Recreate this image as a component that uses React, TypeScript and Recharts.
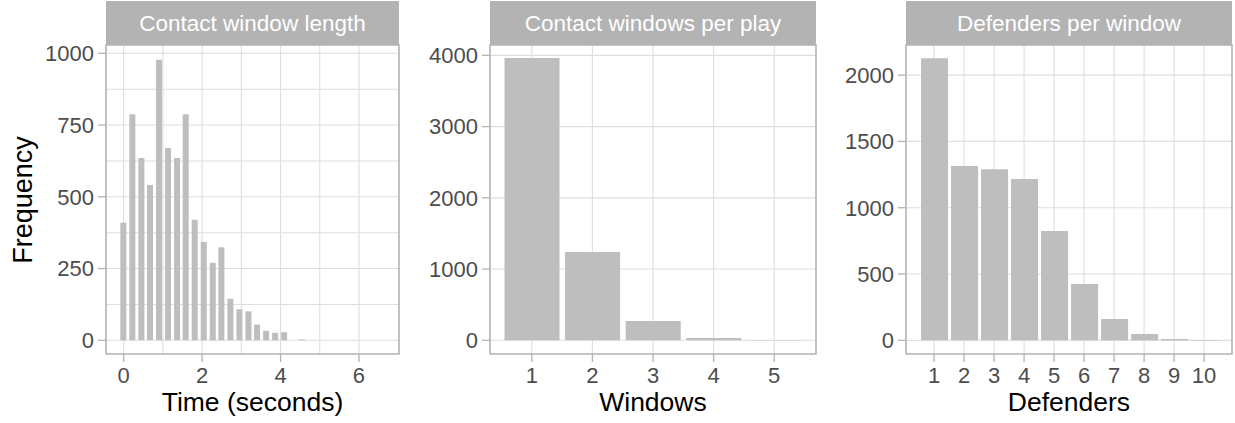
import React from 'react';
import { BarChart, Bar, XAxis, YAxis, CartesianGrid, ReferenceArea } from 'recharts';

const FONT = '"Liberation Sans", Arial, Helvetica, sans-serif';

// ---- Panel 1: Contact window length (histogram bins, seconds) ----
const timeBins = [0, 0.23, 0.46, 0.68, 0.91, 1.14, 1.37, 1.59, 1.82, 2.05, 2.28, 2.5, 2.73, 2.96, 3.19, 3.41, 3.64, 3.87, 4.1, 4.32, 4.55, 4.78, 5.01, 5.23, 5.46, 5.69, 5.92, 6.14, 6.37, 6.6];
const timeCounts = [410, 788, 635, 541, 978, 670, 635, 788, 420, 343, 270, 324, 145, 108, 101, 55, 33, 26, 28, 0, 3, 0, 0, 0, 0, 0, 0, 0, 0, 0];
const timeTicksX = [0, 2, 4, 6];
const timeGridX = [0, 1, 2, 3, 4, 5, 6];
const timeTicksY = [0, 250, 500, 750, 1000];
const timeGridY = [0, 125, 250, 375, 500, 625, 750, 875, 1000];

// ---- Panel 2: Contact windows per play ----
const windowCats = [1, 2, 3, 4, 5];
const windowCounts = [3963, 1240, 271, 33, 5];
const windowTicksY = [0, 1000, 2000, 3000, 4000];

// ---- Panel 3: Defenders per window ----
const defenderCats = [1, 2, 3, 4, 5, 6, 7, 8, 9, 10];
const defenderCounts = [2128, 1314, 1291, 1216, 824, 425, 161, 48, 10, 3];
const defenderTicksY = [0, 500, 1000, 1500, 2000];

const stripTitles = ['Contact window length', 'Contact windows per play', 'Defenders per window'];
const xTitles = ['Time (seconds)', 'Windows', 'Defenders'];
const yTitle = 'Frequency';

const H = 423;
const TOP = 45;
const XAXIS_H = 69;

const toRows = (xs: number[], ys: number[]) => xs.map((x, i) => ({ x, y: ys[i] }));

type PanelProps = {
  left: number;
  width: number;
  yAxisWidth: number;
  marginRight: number;
  data: { x: number; y: number }[];
  xDomain: [number, number];
  xTicks: number[];
  xGrid: number[];
  yDomain: [number, number];
  yTicks: number[];
  yGrid: number[];
  barSize: number;
  strip: string;
  xTitle: string;
};

function Panel(p: PanelProps) {
  const plotLeft = p.left + p.yAxisWidth;
  const plotRight = p.left + p.width - p.marginRight;
  const plotW = plotRight - plotLeft;
  const tickStyle = { fill: '#4d4d4d', fontSize: 22, fontFamily: FONT };
  const tickLine = { stroke: '#b3b3b3', strokeWidth: 1.3 };
  return (
    <>
      <div style={{ position: 'absolute', left: p.left, top: 0 }}>
        <BarChart
          width={p.width}
          height={H}
          data={p.data}
          margin={{ top: TOP, right: p.marginRight, bottom: 0, left: 0 }}
        >
          <CartesianGrid
            stroke="#dedede"
            strokeWidth={1.1}
            horizontalValues={p.yGrid}
            verticalValues={p.xGrid}
          />
          <XAxis
            type="number"
            dataKey="x"
            domain={p.xDomain}
            ticks={p.xTicks}
            allowDataOverflow
            interval={0}
            height={XAXIS_H}
            axisLine={false}
            tickLine={tickLine}
            tickSize={8}
            tickMargin={5}
            tick={tickStyle}
          />
          <YAxis
            type="number"
            domain={p.yDomain}
            ticks={p.yTicks}
            allowDataOverflow
            interval={0}
            width={p.yAxisWidth}
            axisLine={false}
            tickLine={tickLine}
            tickSize={8}
            tickMargin={4}
            tick={tickStyle}
          />
          <Bar dataKey="y" fill="#bebebe" barSize={p.barSize} isAnimationActive={false} />
          <ReferenceArea
            x1={p.xDomain[0]}
            x2={p.xDomain[1]}
            y1={p.yDomain[0]}
            y2={p.yDomain[1]}
            fill="none"
            fillOpacity={0}
            stroke="#b3b3b3"
            strokeWidth={1.6}
            ifOverflow="visible"
          />
        </BarChart>
      </div>
      <div
        style={{
          position: 'absolute',
          left: plotLeft,
          top: 1,
          width: plotW,
          height: 44,
          background: '#b3b3b3',
          color: '#ffffff',
          fontFamily: FONT,
          fontSize: 22.5,
          lineHeight: '46px',
          textAlign: 'center',
          whiteSpace: 'nowrap',
        }}
      >
        {p.strip}
      </div>
      <div
        style={{
          position: 'absolute',
          left: plotLeft,
          top: 391.3,
          width: plotW,
          height: 22,
          color: '#000000',
          fontFamily: FONT,
          fontSize: 26.5,
          lineHeight: '22px',
          textAlign: 'center',
          whiteSpace: 'nowrap',
        }}
      >
        {p.xTitle}
      </div>
    </>
  );
}

export default function App() {
  return (
    <div
      style={{
        position: 'absolute',
        left: 0,
        top: 0,
        width: 1235,
        height: 423,
        background: '#ffffff',
        overflow: 'hidden',
      }}
    >
      <div
        style={{
          position: 'absolute',
          left: -77,
          top: 184.5,
          width: 200,
          height: 30,
          fontFamily: FONT,
          fontSize: 27,
          lineHeight: '30px',
          color: '#000000',
          textAlign: 'center',
          transform: 'rotate(-90deg)',
          whiteSpace: 'nowrap',
        }}
      >
        {yTitle}
      </div>
      <Panel
        left={0}
        width={404}
        yAxisWidth={106}
        marginRight={5}
        data={toRows(timeBins, timeCounts)}
        xDomain={[-0.45, 7.02]}
        xTicks={timeTicksX}
        xGrid={timeGridX}
        yDomain={[-47.7, 1029]}
        yTicks={timeTicksY}
        yGrid={timeGridY}
        barSize={6}
        strip={stripTitles[0]}
        xTitle={xTitles[0]}
      />
      <Panel
        left={410}
        width={410}
        yAxisWidth={80}
        marginRight={4}
        data={toRows(windowCats, windowCounts)}
        xDomain={[0.31, 5.69]}
        xTicks={windowCats}
        xGrid={windowCats}
        yDomain={[-192, 4145]}
        yTicks={windowTicksY}
        yGrid={windowTicksY}
        barSize={55}
        strip={stripTitles[1]}
        xTitle={xTitles[1]}
      />
      <Panel
        left={820}
        width={415}
        yAxisWidth={86}
        marginRight={3}
        data={toRows(defenderCats, defenderCounts)}
        xDomain={[0.065, 10.93]}
        xTicks={defenderCats}
        xGrid={defenderCats}
        yDomain={[-103, 2227]}
        yTicks={defenderTicksY}
        yGrid={defenderTicksY}
        barSize={27}
        strip={stripTitles[2]}
        xTitle={xTitles[2]}
      />
    </div>
  );
}
